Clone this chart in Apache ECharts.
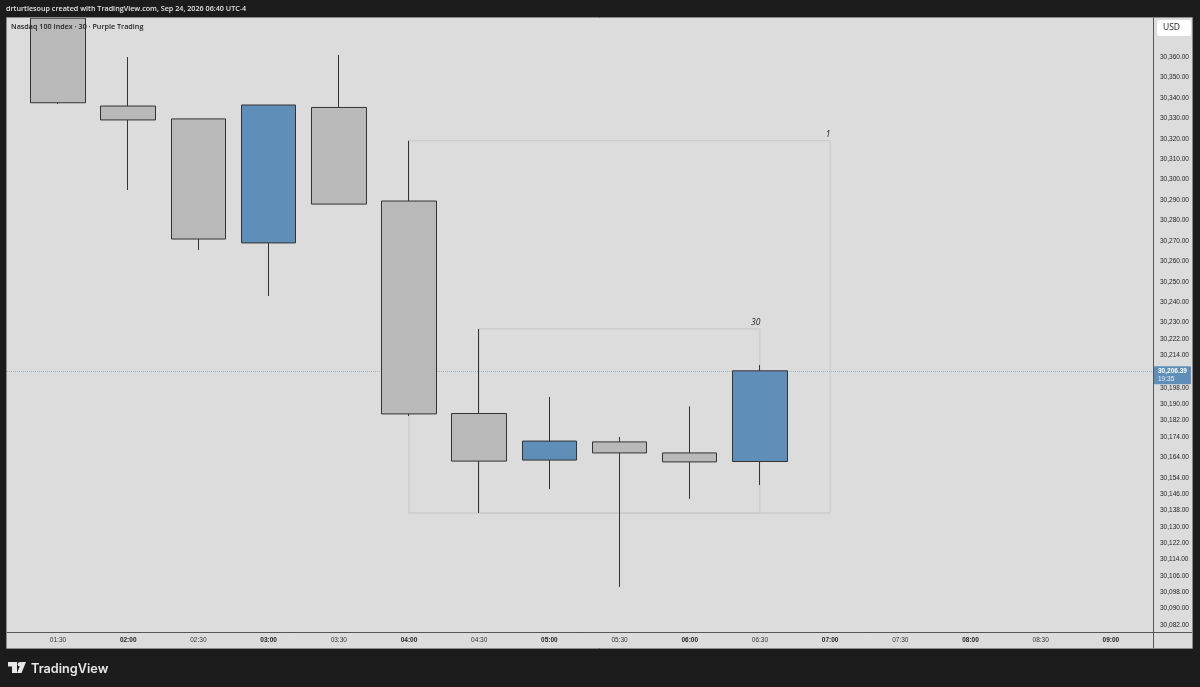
<!DOCTYPE html>
<html><head><meta charset="utf-8">
<style>html,body{margin:0;padding:0;background:#1c1c1c}#c{width:1200px;height:687px}</style>
<script src="https://cdn.jsdelivr.net/npm/echarts@6/dist/echarts.min.js"></script>
</head><body><div id="c"></div>
<script>
const timeLabels = ['01:30','02:00','02:30','03:00','03:30','04:00','04:30','05:00','05:30','06:00','06:30','07:00','07:30','08:00','08:30','09:00'];
const opens  = [30379,30336,30329.7,30269,30335.3,30289.5,30185.5,30162.7,30171.6,30166.2,30162];
const closes = [30337.6,30329.2,30270.9,30336.5,30288,30185.3,30162.2,30172,30166.2,30161.8,30206.39];
const lows   = [30337,30294.9,30265.5,30243,30288,30184.3,30136.8,30148.5,30100.6,30143.7,30150.5];
const highs  = [30379,30360,30329.7,30336.5,30361,30319,30226.9,30193.6,30174,30189,30209.2];
const priceTicks = [30360,30350,30340,30330,30320,30310,30300,30290,30280,30270,30260,30250,30240,30230,30222,30214,30198,30190,30182,30174,30164,30154,30146,30138,30130,30122,30114,30106,30098,30090,30082];
const lastPrice = 30206.39;
const countdown = '19:35';
const boxOuter = {from:5,to:11,top:30319,bottom:30136.8,label:'1'};
const boxInner = {from:6,to:10,top:30226.9,bottom:30136.8,label:'30'};

const FONT = '"Liberation Sans", sans-serif';
const UI = '"Open Sans", sans-serif';
const fmt = v => v.toLocaleString('en-US',{minimumFractionDigits:2,maximumFractionDigits:2});
const candles = opens.map((o,i)=>[i,o,closes[i],lows[i],highs[i]]);
const chart = echarts.init(document.getElementById('c'),null,{renderer:'canvas'});
const boxArea = b => [{coord:[b.from,b.top]},{coord:[b.to,b.bottom]}];
chart.setOption({
  animation:false,
  backgroundColor:'#1c1c1c',
  grid:{left:7,top:18,width:1146,height:614,show:true,backgroundColor:'#dcdcdc',borderWidth:0},
  xAxis:{type:'value',min:-0.7265,max:15.6,
    axisLine:{show:true,onZero:false,lineStyle:{color:'#555',width:1}},
    axisTick:{show:false},splitLine:{show:false},
    axisLabel:{customValues:timeLabels.map((_,i)=>i),margin:5,hideOverlap:false,
      formatter:v=>{const t=timeLabels[Math.round(v)];return t.endsWith(':00')?'{b|'+t+'}':'{n|'+t+'}';},
      rich:{b:{fontFamily:FONT,fontSize:6.5,fontWeight:'bold',color:'#222'},n:{fontFamily:FONT,fontSize:6.5,color:'#333'}}}},
  yAxis:{type:'value',position:'right',min:30078.55,max:30379.09,
    axisLine:{show:true,onZero:false,lineStyle:{color:'#555',width:1}},
    axisTick:{show:false},splitLine:{show:false},
    axisLabel:{customValues:priceTicks,margin:7,padding:[2,0,0,0],fontFamily:FONT,fontSize:6.5,color:'#222',hideOverlap:false,formatter:fmt}},
  series:[
    {type:'line',data:[],z:1,silent:true,
      markArea:{silent:true,itemStyle:{color:'rgba(0,0,0,0)',borderColor:'#c6c6c6',borderWidth:1},data:[boxArea(boxOuter),boxArea(boxInner)]},
      markPoint:{silent:true,symbolSize:0,
        label:{show:true,fontFamily:UI,fontSize:8.5,fontStyle:'italic',color:'#222',position:'top',distance:1.5,formatter:p=>p.name},
        data:[{name:boxOuter.label,coord:[boxOuter.to-0.03,boxOuter.top]},{name:boxInner.label,coord:[boxInner.to-0.06,boxInner.top]}]}},
    {type:'candlestick',z:2,barWidth:55,clip:true,silent:true,
      encode:{x:0,y:[1,2,3,4]},data:candles,
      itemStyle:{color:'#5f8eb8',color0:'#b9b9b9',borderColor:'#333',borderColor0:'#333',borderWidth:1},
      markLine:{silent:true,symbol:'none',z:0,
        lineStyle:{type:'dotted',color:'#a3b3bf',width:1},
        label:{show:true,position:'end',distance:1,offset:[0,4.5],
          backgroundColor:'#5f8eb8',padding:[1,4,1,4],borderRadius:1,align:'left',lineHeight:8,
          formatter:()=>'{p|'+fmt(lastPrice)+'}\n{t|'+countdown+'}',
          rich:{p:{fontFamily:FONT,fontSize:6.5,fontWeight:'bold',color:'#fff',lineHeight:8},t:{fontFamily:FONT,fontSize:6.5,color:'#e8eef4',lineHeight:8}}},
        data:[{yAxis:lastPrice}]}}
  ],
  graphic:{elements:[
    {type:'rect',z:-1,silent:true,shape:{x:1154,y:18,width:39,height:630},style:{fill:'#dcdcdc'}},
    {type:'rect',z:-1,silent:true,shape:{x:7,y:633,width:1147,height:15},style:{fill:'#dcdcdc'}},
    {type:'line',z:5,silent:true,shape:{x1:1153.5,y1:632,x2:1153.5,y2:648},style:{stroke:'#555',lineWidth:1}},
    {type:'line',z:5,silent:true,shape:{x1:1153.5,y1:632.5,x2:1193,y2:632.5},style:{stroke:'#555',lineWidth:1}},
    {type:'rect',z:5,silent:true,shape:{x:6.5,y:17.5,width:1186,height:631},style:{fill:'none',stroke:'#8a8a8a',lineWidth:1}},
    {type:'text',z:5,silent:true,x:6,y:5,style:{text:'drturtlesoup created with TradingView.com, Sep 24, 2026 06:40 UTC-4',fontFamily:UI,fontSize:7.2,fontWeight:600,fill:'#e6e6e6'}},
    {type:'text',z:5,silent:true,x:11,y:23,style:{text:'Nasdaq 100 Index · 30 · Purple Trading',fontFamily:UI,fontSize:7.2,fontWeight:600,fill:'#222'}},
    {type:'rect',z:5,silent:true,shape:{x:1157,y:20,width:34,height:16,r:2},style:{fill:'#fff'}},
    {type:'text',z:6,silent:true,x:1163,y:23,style:{text:'USD',fontFamily:UI,fontSize:8.5,fill:'#222'}},
    {type:'polygon',z:5,silent:true,shape:{points:[[8,662],[17,662],[17,673],[12,673],[12,666.5],[8,666.5]]},style:{fill:'#e8e8e8'}},
    {type:'circle',z:5,silent:true,shape:{cx:20,cy:664.3,r:2.3},style:{fill:'#e8e8e8'}},
    {type:'polygon',z:5,silent:true,shape:{points:[[21.5,662],[26,662],[21.5,673],[17,673]]},style:{fill:'#e8e8e8'}},
    {type:'text',z:5,silent:true,x:31,y:663,style:{text:'TradingView',fontFamily:'Inter, sans-serif',fontSize:12.7,fontWeight:600,fill:'#e8e8e8'}}
  ]}
});
</script></body></html>
